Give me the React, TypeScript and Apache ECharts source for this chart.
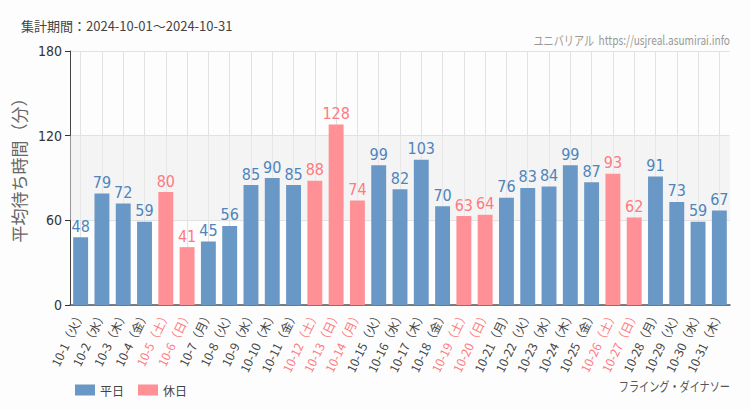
import React, { useEffect, useRef } from "react";
import * as echarts from "echarts";

const categories = [
  "10-1（火）", "10-2（水）", "10-3（木）", "10-4（金）", "10-5（土）", "10-6（日）", "10-7（月）",
  "10-8（火）", "10-9（水）", "10-10（木）", "10-11（金）", "10-12（土）", "10-13（日）", "10-14（月）",
  "10-15（火）", "10-16（水）", "10-17（木）", "10-18（金）", "10-19（土）", "10-20（日）", "10-21（月）",
  "10-22（火）", "10-23（水）", "10-24（木）", "10-25（金）", "10-26（土）", "10-27（日）", "10-28（月）",
  "10-29（火）", "10-30（水）", "10-31（木）",
];
const waitValues = [48, 79, 72, 59, 80, 41, 45, 56, 85, 90, 85, 88, 128, 74, 99, 82, 103, 70, 63, 64, 76, 83, 84, 99, 87, 93, 62, 91, 73, 59, 67];
const holidayFlags = [0, 0, 0, 0, 1, 1, 0, 0, 0, 0, 0, 1, 1, 1, 0, 0, 0, 0, 1, 1, 0, 0, 0, 0, 0, 1, 1, 0, 0, 0, 0];
const yTicks = [0, 60, 120, 180];

const BLUE = "#6a98c6";
const BLUE_TXT = "#4f84bb";
const PINK = "#ff9096";
const PINK_TXT = "#ff7a80";
const COND = "'Liberation Sans Narrow', 'DejaVu Sans Condensed', sans-serif";
const JP = "'Noto Sans CJK JP', sans-serif";

export default function App() {
  const ref = useRef<HTMLDivElement>(null);
  useEffect(() => {
    if (!ref.current) return;
    const chart = echarts.init(ref.current, null, { renderer: "svg" });
    const weekday = waitValues.map((v, i) => (holidayFlags[i] ? "-" : v));
    const holiday = waitValues.map((v, i) => (holidayFlags[i] ? v : "-"));
    chart.setOption({
      animation: false,
      backgroundColor: "#fcfdfc",
      graphic: [
        { type: "text", x: 21, y: 19, style: { text: "集計期間：2024-10-01～2024-10-31", fontSize: 13, fill: "#444", fontFamily: JP } },
        { type: "text", x: 730, y: 32, scaleX: 0.78, style: { text: "ユニバリアル  https://usjreal.asumirai.info", fontSize: 13, fill: "#999", fontFamily: JP, align: "right" } },
        { type: "text", x: 730, y: 378, scaleX: 0.78, style: { text: "フライング・ダイナソー", fontSize: 13, fill: "#555", fontFamily: JP, align: "right" } },
      ],
      legend: {
        left: 70, top: 379, itemWidth: 20, itemHeight: 11, itemGap: 14, icon: "rect",
        textStyle: { fontSize: 12, color: "#444", fontFamily: JP },
        data: ["平日", "休日"],
      },
      grid: { left: 70, right: 20, top: 51, bottom: 105 },
      xAxis: {
        type: "category",
        data: categories,
        axisLine: { lineStyle: { color: "#555", width: 1.5 } },
        axisTick: { alignWithLabel: true, lineStyle: { color: "#333" }, length: 4 },
        axisLabel: {
          rotate: 64, fontSize: 12, fontFamily: JP, margin: 6, interval: 0,
          color: (_v: string, i: number) => (holidayFlags[i] ? PINK_TXT : "#444"),
        },
        splitLine: { show: false },
      },
      yAxis: {
        type: "value", min: yTicks[0], max: yTicks[yTicks.length - 1], interval: 60,
        name: "平均待ち時間（分）", nameLocation: "middle", nameGap: 40,
        nameTextStyle: { fontSize: 17, color: "#666", fontFamily: JP, padding: [0, 0, 0, 24] },
        axisLine: { show: true, lineStyle: { color: "#444" } },
        axisTick: { show: true, length: 5, lineStyle: { color: "#333" } },
        axisLabel: { fontSize: 14, color: "#333", fontFamily: COND, margin: 8 },
        splitLine: { lineStyle: { color: "#e2e2e2" } },
      },
      series: [
        {
          name: "平日", type: "bar", stack: "a", barWidth: "70%",
          data: weekday,
          itemStyle: { color: BLUE },
          label: { show: true, position: "top", color: BLUE_TXT, fontSize: 16, fontFamily: COND, distance: 3 },
          markLine: {
            silent: true, symbol: "none", label: { show: false },
            lineStyle: { color: "#e2e2e2", type: "solid", width: 1 },
            data: categories.map((c) => ({ xAxis: c })),
            z: 0,
          },
          markArea: {
            silent: true,
            itemStyle: { color: "rgba(235,235,235,0.5)" },
            data: [[{ yAxis: 60 }, { yAxis: 120 }]],
          },
          z: 2,
        },
        {
          name: "休日", type: "bar", stack: "a", barWidth: "70%",
          data: holiday,
          itemStyle: { color: PINK },
          label: { show: true, position: "top", color: PINK_TXT, fontSize: 16, fontFamily: COND, distance: 3 },
          z: 2,
        },
      ],
    });
    return () => chart.dispose();
  }, []);
  return <div ref={ref} style={{ width: 750, height: 410, position: "absolute", left: 0, top: 0 }} />;
}
